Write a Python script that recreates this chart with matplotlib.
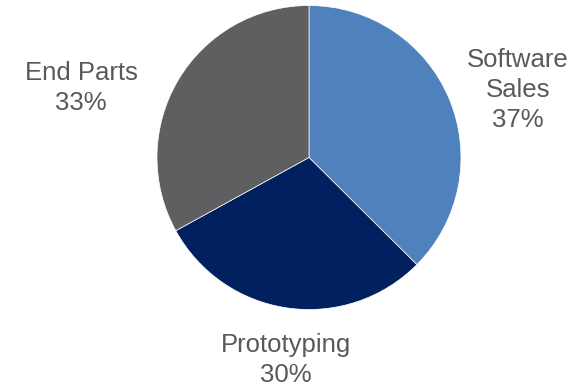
import matplotlib
matplotlib.use("Agg")
import matplotlib.pyplot as plt

# shares of revenue
categories = ["Software\nSales", "Prototyping", "End Parts"]
values = [37.45, 29.55, 33.0]
colors = ["#4F81BD", "#002060", "#5F5F61"]

# label centres (pixels from top-left of the figure)
label_px = [(518, 90), (286, 360), (81, 88)]

W, H = 584, 384
cx, cy, r = 309, 157.5, 152

plt.rcParams['font.family'] = ['Liberation Sans', 'DejaVu Sans']

fig = plt.figure(figsize=(W / 100, H / 100), dpi=100)
ax = fig.add_axes([0, 0, 1, 1])
ax.set_xlim(-cx / r, (W - cx) / r)
ax.set_ylim(-(H - cy) / r, cy / r)
ax.set_aspect('equal')
ax.axis('off')

total = sum(values)
labels = [f"{c}\n{v / total * 100:.0f}%" for c, v in zip(categories, values)]

wedges, texts = ax.pie(values, labels=labels, colors=colors, startangle=90,
                       counterclock=False, radius=1, center=(0, 0),
                       wedgeprops=dict(edgecolor='white', linewidth=0.5),
                       textprops=dict(fontsize=18.5, color='#595959'))

for t, (px, py) in zip(texts, label_px):
    t.set_position(((px - cx) / r, (cy - py) / r))
    t.set_ha('center')
    t.set_va('center')
    t.set_multialignment('center')
    t.set_linespacing(1.3)

ax.set_xlim(-cx / r, (W - cx) / r)
ax.set_ylim(-(H - cy) / r, cy / r)

fig.savefig("out.png", dpi=100)
